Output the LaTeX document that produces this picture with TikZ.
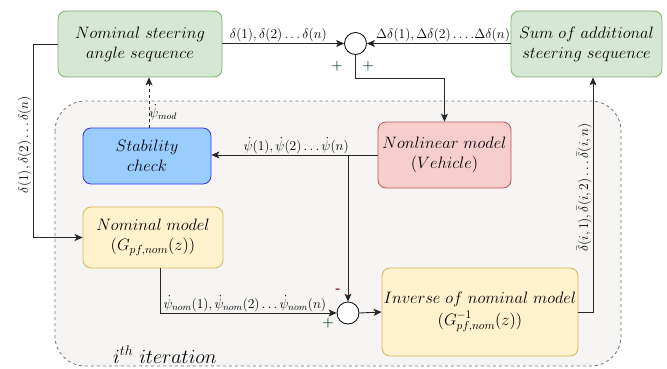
\documentclass[tikz,border=0pt]{standalone}
\usepackage{fix-cm}
\usetikzlibrary{arrows.meta,calc}
\definecolor{gfill}{HTML}{D5E8D4}\definecolor{gdraw}{HTML}{82B366}
\definecolor{rfill}{HTML}{F8CECC}\definecolor{rdraw}{HTML}{B85450}
\definecolor{yfill}{HTML}{FFF2CC}\definecolor{ydraw}{HTML}{D6B656}
\definecolor{bfill}{HTML}{99CCFF}\definecolor{bdraw}{HTML}{3333FF}
\definecolor{cfill}{HTML}{F6F5F4}\definecolor{cdraw}{HTML}{777777}
\definecolor{plusc}{HTML}{0E3D25}\definecolor{minusc}{HTML}{7A1515}
\newcommand{\boxfont}{\fontsize{16.5}{20}\selectfont}
\newcommand{\lblfont}{\fontsize{13.5}{15}\selectfont}
\tikzset{
  blk/.style={rounded corners=8pt, line width=0.8pt, align=center, inner sep=0pt, font=\boxfont},
  grn/.style={blk, fill=gfill, draw=gdraw},
  red/.style={blk, fill=rfill, draw=rdraw},
  yel/.style={blk, fill=yfill, draw=ydraw},
  blu/.style={blk, fill=bfill, draw=bdraw},
  sumc/.style={circle, draw=black, fill=white, line width=0.8pt, minimum size=22pt, inner sep=0pt},
  conn/.style={line width=0.9pt, draw=black!85, -{Stealth[length=8pt,width=7pt,inset=2pt]}},
  lbl/.style={font=\lblfont, inner sep=1pt},
  sgn/.style={font=\bfseries\fontsize{13}{13}\selectfont, inner sep=0pt}
}
\begin{document}
\begin{tikzpicture}[x=1pt,y=-1pt]
\useasboundingbox (0,0) rectangle (667,369);
\fill[white] (0,0) rectangle (667,369);
% container
\draw[dashed, draw=cdraw, fill=cfill, line width=0.8pt, rounded corners=30pt] (55,101) rectangle (621,366);
\node[anchor=base west, font=\fontsize{20}{22}\selectfont, inner sep=0pt] (iter) at (113,363) {$i^{th}\ iteration$};
% blocks
\node[grn, minimum width=164pt, minimum height=66pt] (nss) at (140,44) {$Nominal\ steering$\\$angle\ sequence$};
\node[grn, minimum width=151pt, minimum height=66pt] (sas) at (586.5,44) {$Sum\ of\ additional$\\$steering\ sequence$};
\node[red, minimum width=133pt, minimum height=66pt] (nlm) at (444.5,155) {$Nonlinear\ model$\\$(Vehicle)$};
\node[blu, minimum width=128pt, minimum height=56pt] (stab) at (147,156) {$Stability$\\$check$};
\node[yel, minimum width=140pt, minimum height=61pt] (nom) at (153,237.5) {$Nominal\ model$\\$(G_{pf,nom}(z))$};
\node[yel, minimum width=196pt, minimum height=88pt] (inv) at (480,312) {$Inverse\ of\ nominal\ model$\\[2pt]$(G^{-1}_{pf,nom}(z))$};
\node[sumc] (s1) at (355.5,43.5) {};
\node[sumc] (s2) at (348,313) {};
% signs
\node[sgn, text=plusc] (p1) at (337,66) {+};
\node[sgn, text=plusc] (p2) at (368,66) {+};
\node[sgn, text=plusc] (p3) at (328,323) {+};
\node[sgn, text=minusc] (m1) at (338,291) {-};
% connectors
\draw[conn] (nss.east |- s1.west) -- node[lbl, above, pos=0.46] {$\delta(1),\delta(2)\ldots\delta(n)$} (s1.west);
\draw[conn] (sas.west |- s1.east) -- node[lbl, above, pos=0.47] {$\Delta\delta(1),\Delta\delta(2)\ldots.\Delta\delta(n)$} (s1.east);
\coordinate (k1) at (355.5,78);
\draw[conn] (s1.south) -- (k1) -| (nlm.north);
\draw[conn] (nlm.west |- 0,155) -- node[lbl, above, pos=0.49] {$\dot\psi(1),\dot\psi(2)\ldots\dot\psi(n)$} (stab.east |- 0,155);
\coordinate (br) at (348,155);
\draw[conn] (br) -- (s2.north);
\draw[conn, dashed] ([xshift=2pt]stab.north) -- node[lbl, right, pos=0.3, xshift=-1pt] {$\dot\psi_{mod}$} ([xshift=2pt]stab.north |- nss.south);
\coordinate (k2) at (33,44);
\draw[conn] (nss.west) -- (k2) |- node[lbl, pos=0.26, above, rotate=90] {$\delta(1),\delta(2)\ldots\delta(n)$} (nom.west);
\draw[conn] ([xshift=7pt]nom.south) |- node[lbl, above, pos=0.74] {$\dot\psi_{nom}(1),\dot\psi_{nom}(2)\ldots\dot\psi_{nom}(n)$} (s2.west);
\draw[conn] (s2.east) -- (inv.west);
\coordinate (k3) at (593,312);
\draw[conn] (inv.east) -- (k3) -- node[lbl, above, rotate=90, pos=0.53] {$\bar\delta(i,1),\bar\delta(i,2)\ldots\bar\delta(i,n)$} (k3 |- sas.south);
\end{tikzpicture}
\end{document}
